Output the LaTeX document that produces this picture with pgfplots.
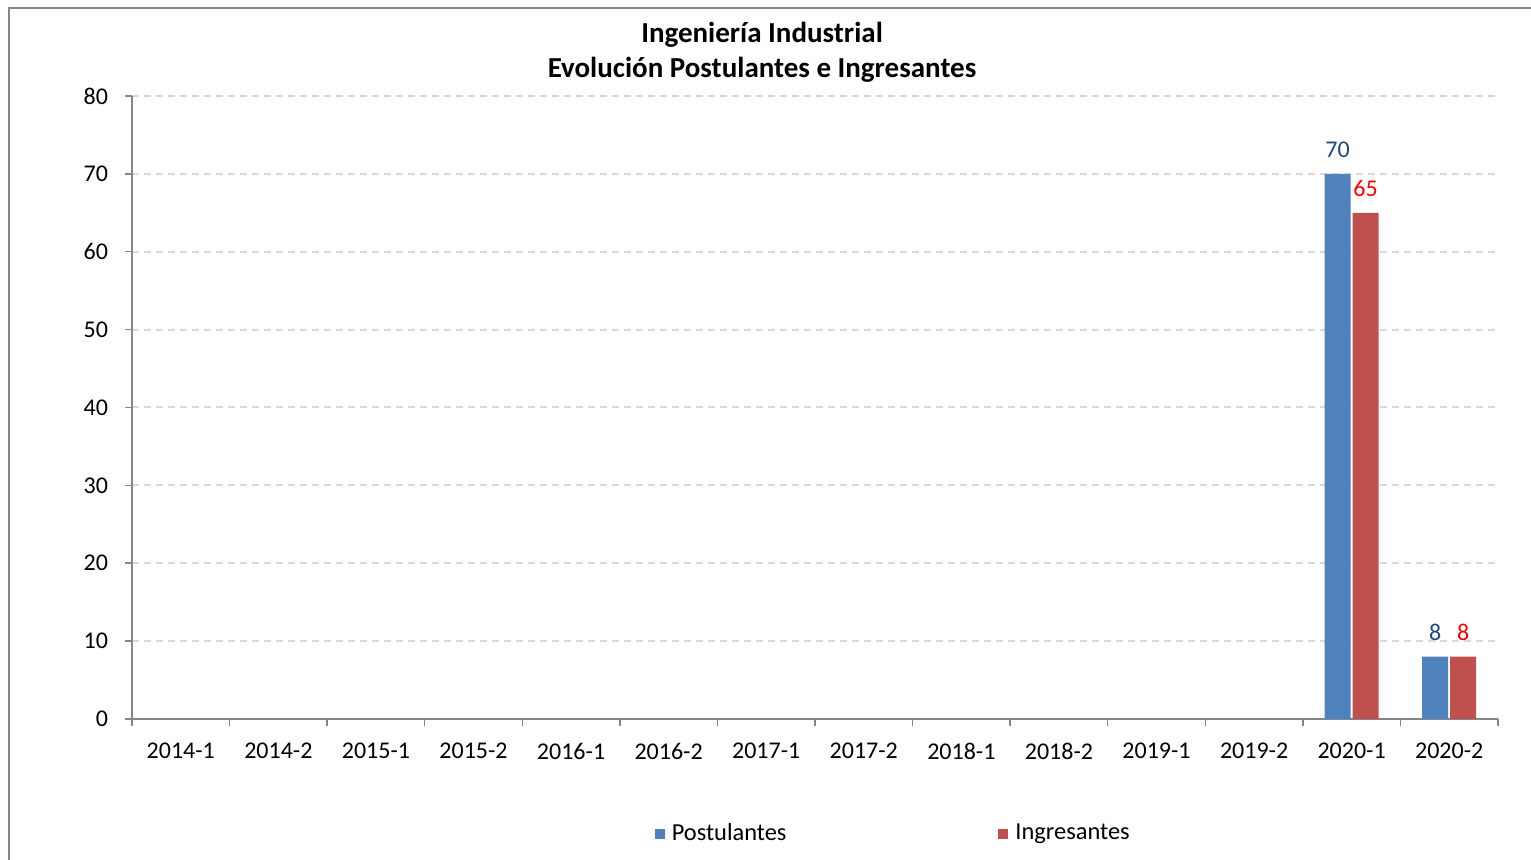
\documentclass[border=0pt]{standalone}
\usepackage{fontspec}
\setmainfont{Carlito}
\usepackage{pgfplots}
\pgfplotsset{compat=1.18}
\definecolor{barblue}{HTML}{4F81BD}
\definecolor{barred}{HTML}{C0504D}
\definecolor{lblblue}{HTML}{1F497D}
\definecolor{lblred}{HTML}{FF0000}
\definecolor{axgray}{HTML}{868686}
\definecolor{gridgray}{HTML}{D9D9D9}

\begin{document}
\begin{tikzpicture}
\useasboundingbox (0,0) rectangle (765.5pt,430pt);
\draw[axgray, line width=0.75pt] (4.5pt,0) -- (4.5pt,426pt) -- (765.5pt,426pt);
\node[font=\fontsize{14.5}{17.5}\selectfont\bfseries, align=center]
  at (381pt,403.7pt) {Ingeniería Industrial\\Evolución Postulantes e Ingresantes};
\begin{axis}[
  at={(66pt,70.5pt)}, anchor=south west,
  scale only axis, width=683pt, height=311.5pt,
  ybar=1pt, bar width=13pt,
  xmin=-0.5, xmax=13.5, ymin=0, ymax=80,
  ytick={0,10,...,80},
  xtick={-0.5,0.5,...,13.5},
  x tick label as interval,
  xticklabels={2014-1,2014-2,2015-1,2015-2,2016-1,2016-2,2017-1,2017-2,
               2018-1,2018-2,2019-1,2019-2,2020-1,2020-2},
  axis lines*=left,
  axis line style={axgray, line width=0.75pt, -},
  tick style={axgray, line width=0.75pt},
  tick align=outside, major tick length=3.5pt,
  ymajorgrids,
  grid style={gridgray, line width=1pt, dash pattern=on 3.5pt off 2.5pt},
  tick label style={font=\fontsize{12}{14}\selectfont, text=black},
  yticklabel style={xshift=-5pt},
  xticklabel style={yshift=-5pt},
  /pgf/number format/assume math mode=true,
  legend columns=2,
  legend style={draw=none, at={(0.558,-0.184)}, anchor=center,
    font=\fontsize{12.2}{14}\selectfont,
    /tikz/every odd column/.append style={column sep=1.5pt},
    /tikz/every even column/.append style={column sep=104pt}},
  legend image code/.code={\fill[#1] (-1.5pt,-2.5pt) rectangle (3.5pt,2.5pt);},
]
\addplot[fill=barblue, draw=none, nodes near coords,
  every node near coord/.append style={text=lblblue, yshift=4.5pt,
    font=\fontsize{12}{14}\selectfont}]
  coordinates {(12,70) (13,8)};
\addlegendentry{Postulantes}
\addplot[fill=barred, draw=none, nodes near coords,
  every node near coord/.append style={text=lblred, yshift=4.5pt,
    font=\fontsize{12}{14}\selectfont}]
  coordinates {(12,65) (13,8)};
\addlegendentry{Ingresantes}
\end{axis}
\end{tikzpicture}
\end{document}
